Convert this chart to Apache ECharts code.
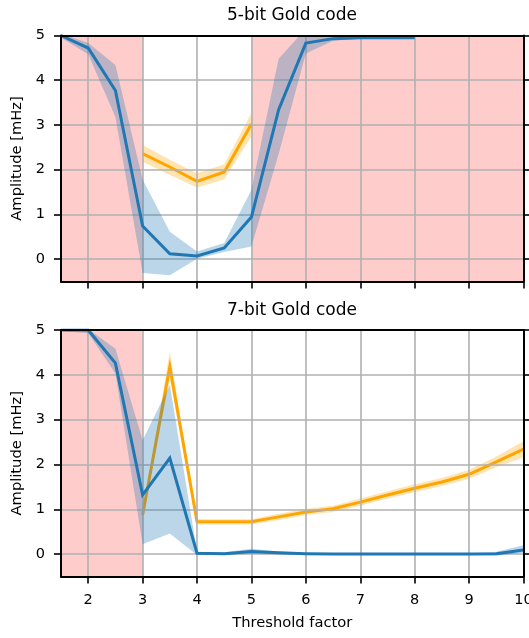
<!DOCTYPE html>
<html>
<head>
<meta charset="utf-8">
<script src="https://cdn.jsdelivr.net/npm/echarts@6/dist/echarts.min.js"></script>
<style>
  html, body { margin: 0; padding: 0; background: #fff; }
  #chart { width: 529px; height: 638px; }
</style>
</head>
<body>
<div id="chart"></div>
<script>
// Threshold factor sweep (shared x values)
const thresholds = [1.5, 2, 2.5, 3, 3.5, 4, 4.5, 5, 5.5, 6, 6.5, 7, 7.5, 8, 8.5, 9, 9.5, 10];
const xTicks = [2, 3, 4, 5, 6, 7, 8, 9, 10];
const yTicks = [0, 1, 2, 3, 4, 5];

// 5-bit Gold code
const blue5   = [5.00, 4.72, 3.77, 0.74, 0.12, 0.07, 0.25, 0.94, 3.34, 4.83, 4.93, 4.95, 4.95, 4.95];
const blue5Lo = [4.95, 4.58, 3.18, -0.31, -0.36, 0.01, 0.16, 0.28, 2.35, 4.60, 4.88, 4.93, 4.94, 4.94];
const blue5Hi = [5.05, 4.83, 4.34, 1.78, 0.61, 0.17, 0.36, 1.55, 4.48, 5.15, 5.00, 4.98, 4.97, 4.97];
const orangeX5  = [3, 3.5, 4, 4.5, 5];
const orange5   = [2.36, 2.06, 1.74, 1.95, 3.02];
const orange5Lo = [2.18, 1.88, 1.60, 1.78, 2.75];
const orange5Hi = [2.55, 2.22, 1.92, 2.12, 3.27];
const spans5 = [[1.5, 3], [5, 10]];

// 7-bit Gold code
const blue7   = [5.00, 5.00, 4.26, 1.32, 2.14, 0.02, 0.01, 0.06, 0.03, 0.01, 0.00, 0.00, 0.00, 0.00, 0.00, 0.00, 0.01, 0.09];
const blue7Lo = [4.98, 4.93, 4.03, 0.22, 0.46, -0.02, -0.02, 0.01, -0.01, -0.02, -0.02, -0.02, -0.02, -0.02, -0.02, -0.02, -0.03, 0.03];
const blue7Hi = [5.02, 5.02, 4.58, 2.54, 3.78, 0.05, 0.04, 0.12, 0.06, 0.02, 0.02, 0.02, 0.02, 0.02, 0.02, 0.02, 0.05, 0.20];
const orangeX7  = [3, 3.5, 4, 4.5, 5, 5.5, 6, 6.5, 7, 7.5, 8, 8.5, 9, 9.5, 10];
const orange7   = [0.87, 4.18, 0.72, 0.72, 0.72, 0.83, 0.94, 1.01, 1.16, 1.32, 1.47, 1.61, 1.78, 2.06, 2.34];
const orange7Lo = [0.82, 3.90, 0.66, 0.66, 0.66, 0.76, 0.87, 0.94, 1.08, 1.24, 1.38, 1.52, 1.68, 1.94, 2.16];
const orange7Hi = [0.92, 4.52, 0.78, 0.78, 0.78, 0.90, 1.01, 1.08, 1.24, 1.40, 1.56, 1.70, 1.88, 2.18, 2.52];
const spans7 = [[1.5, 3]];

const BLUE = '#1f77b4';
const ORANGE = '#ffa500';
const FONT = 'DejaVu Sans';

function pairs(xs, ys) { return ys.map((y, i) => [xs[i], y]); }

// Shaded band between lo and hi drawn as one polygon
function band(gi, xs, lo, hi, color, z) {
  const rows = lo.map((l, i) => [xs[i], l, hi[i]]);
  return {
    type: 'custom', xAxisIndex: gi * 2, yAxisIndex: gi * 2, z: z, clip: true, silent: true,
    data: rows,
    encode: { x: 0, y: [1, 2] },
    renderItem: function (params, api) {
      if (params.dataIndex !== 0) return null;
      const pts = [];
      for (let i = 0; i < rows.length; i++) pts.push(api.coord([rows[i][0], rows[i][2]]));
      for (let i = rows.length - 1; i >= 0; i--) pts.push(api.coord([rows[i][0], rows[i][1]]));
      return { type: 'polygon', shape: { points: pts }, style: { fill: color, opacity: 0.3 } };
    }
  };
}

function line(gi, xs, ys, color, z) {
  return {
    type: 'line', xAxisIndex: gi * 2, yAxisIndex: gi * 2, z: z, silent: true,
    data: pairs(xs, ys), symbol: 'none', clip: true,
    lineStyle: { color: color, width: 3, cap: 'butt', join: 'miter' }
  };
}

function spans(gi, list) {
  return {
    type: 'line', xAxisIndex: gi * 2, yAxisIndex: gi * 2, z: 1, silent: true, data: [],
    markArea: {
      silent: true,
      itemStyle: { color: '#ffcccc', opacity: 1 },
      data: list.map(s => [{ xAxis: s[0] }, { xAxis: s[1] }])
    }
  };
}

function gridLines(gi) {
  return {
    type: 'line', xAxisIndex: gi * 2, yAxisIndex: gi * 2, z: 2, silent: true, data: [],
    markLine: {
      silent: true, symbol: ['none', 'none'], label: { show: false },
      lineStyle: { color: '#b0b0b0', width: 1.6, type: 'solid' },
      data: xTicks.map(v => ({ xAxis: v })).concat(yTicks.map(v => ({ yAxis: v })))
    }
  };
}

const spine = { show: true, onZero: false, lineStyle: { color: '#000', width: 2 } };
const tick = { show: true, inside: false, length: 7, customValues: null, lineStyle: { color: '#000', width: 1.6 } };

function xAxes(gi, withLabels) {
  const bottom = {
    gridIndex: gi, type: 'value', min: 1.5, max: 10, position: 'bottom', z: 10,
    axisLine: spine,
    axisTick: Object.assign({}, tick, { customValues: xTicks }),
    axisLabel: { show: withLabels, customValues: xTicks, margin: 16, color: '#000', fontFamily: FONT, fontSize: 14.5 },
    splitLine: { show: false }
  };
  if (withLabels) {
    bottom.name = 'Threshold factor';
    bottom.nameLocation = 'middle';
    bottom.nameGap = 39;
    bottom.nameTextStyle = { color: '#000', fontFamily: FONT, fontSize: 14.7 };
  }
  const top = {
    gridIndex: gi, type: 'value', min: 1.5, max: 10, position: 'top', z: 10,
    axisLine: spine, axisTick: { show: false }, axisLabel: { show: false }, splitLine: { show: false }
  };
  return [bottom, top];
}

function yAxes(gi) {
  const left = {
    gridIndex: gi, type: 'value', min: -0.5, max: 5, position: 'left', z: 10,
    axisLine: spine,
    axisTick: Object.assign({}, tick, { customValues: yTicks }),
    axisLabel: { customValues: yTicks, margin: 16, color: '#000', fontFamily: FONT, fontSize: 14.5 },
    splitLine: { show: false },
    name: 'Amplitude [mHz]', nameLocation: 'middle', nameGap: 35,
    nameTextStyle: { color: '#000', fontFamily: FONT, fontSize: 14.7 }
  };
  const right = {
    gridIndex: gi, type: 'value', min: -0.5, max: 5, position: 'right', z: 10,
    axisLine: spine,
    axisTick: Object.assign({}, tick, { customValues: yTicks }),
    axisLabel: { show: false }, splitLine: { show: false }
  };
  return [left, right];
}

const chart = echarts.init(document.getElementById('chart'), null, { renderer: 'canvas' });
chart.setOption({
  animation: false,
  backgroundColor: '#ffffff',
  grid: [
    { left: 61, top: 35.5, width: 462.5, height: 246, outerBoundsMode: 'none', containLabel: false },
    { left: 61, top: 330, width: 462.5, height: 246.5, outerBoundsMode: 'none', containLabel: false }
  ],
  xAxis: xAxes(0, false).concat(xAxes(1, true)),
  yAxis: yAxes(0).concat(yAxes(1)),
  graphic: [
    { type: 'text', x: 292, y: 16, style: { text: '5-bit Gold code', textAlign: 'center', textVerticalAlign: 'middle', fill: '#000', font: '17px "DejaVu Sans"' } },
    { type: 'text', x: 292, y: 310.5, style: { text: '7-bit Gold code', textAlign: 'center', textVerticalAlign: 'middle', fill: '#000', font: '17px "DejaVu Sans"' } }
  ],
  series: [
    spans(0, spans5),
    gridLines(0),
    band(0, orangeX5, orange5Lo, orange5Hi, ORANGE, 3),
    line(0, orangeX5, orange5, ORANGE, 4),
    band(0, thresholds, blue5Lo, blue5Hi, BLUE, 5),
    line(0, thresholds, blue5, BLUE, 6),

    spans(1, spans7),
    gridLines(1),
    band(1, orangeX7, orange7Lo, orange7Hi, ORANGE, 3),
    line(1, orangeX7, orange7, ORANGE, 4),
    band(1, thresholds, blue7Lo, blue7Hi, BLUE, 5),
    line(1, thresholds, blue7, BLUE, 6)
  ]
});
</script>
</body>
</html>
